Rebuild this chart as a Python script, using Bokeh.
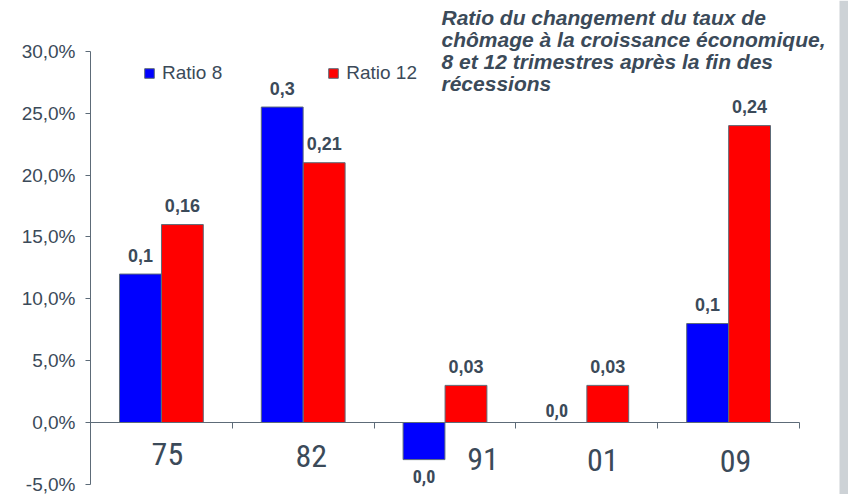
from bokeh.plotting import figure
from bokeh.models import (Range1d, LinearAxis, FixedTicker, ColumnDataSource,
                          Legend, LegendItem, Label, BoxAnnotation)
from bokeh.core.properties import value
from bokeh.embed import file_html
from bokeh.resources import INLINE

# ---------------- data ----------------
years = ["75", "82", "91", "01", "09"]
ratio8 = [12.0, 25.5, -3.0, 0.0, 8.0]
ratio12 = [16.0, 21.0, 3.0, 3.0, 24.0]
labels8 = ["0,1", "0,3", "0,0", "0,0", "0,1"]
labels12 = ["0,16", "0,21", "0,03", "0,03", "0,24"]
series_names = ["Ratio 8", "Ratio 12"]
y_ticks = [-5, 0, 5, 10, 15, 20, 25, 30]
y_tick_labels = ["-5,0%", "0,0%", "5,0%", "10,0%", "15,0%", "20,0%", "25,0%", "30,0%"]
title_text = ("Ratio du changement du taux de\n"
              "chômage à la croissance économique,\n"
              "8 et 12 trimestres après la fin des\n"
              "récessions")

# ---------------- style ----------------
TEXT = "#3b4a59"
AXIS = "#5d6b78"
ARIAL = "Liberation Sans"
NARROW = "'Roboto Condensed', 'Liberation Sans Narrow', 'DejaVu Sans Condensed', sans-serif"
BLUE = "#0000ff"
RED = "#ff0000"
STRIPE = "#cdd2d6"
OFF = 0.148
BW = 0.295
# hand-placed offsets (px) of the category labels below the zero line
cat_dx = [6, 8, 38, 16, 7]
cat_dy = [31, 33, 36, 37, 38]

W, H = 848, 494
LEFT = 90               # y axis position
PX_CAT = 141.8          # px per category
PX_UNIT = 12.371        # px per percentage point
ZERO_Y = 422            # px of the zero line

n = len(years)
centers = [i + 0.5 for i in range(n)]
x_end = (W - LEFT) / PX_CAT
y_top = ZERO_Y / PX_UNIT
y_bot = -(H - ZERO_Y) / PX_UNIT

p = figure(width=W, height=H, x_range=Range1d(0, x_end), y_range=Range1d(y_bot, y_top),
           output_backend="svg", toolbar_location=None,
           x_axis_location=None, y_axis_location=None,
           min_border_left=LEFT, min_border_right=0, min_border_top=0, min_border_bottom=0)
p.xgrid.visible = False
p.ygrid.visible = False
p.outline_line_color = None
p.background_fill_color = "white"
p.border_fill_color = "white"

# grey stripe at right edge
p.add_layout(BoxAnnotation(left=(839 - LEFT) / PX_CAT, fill_color=STRIPE, fill_alpha=1,
                           line_color=None))

# y axis
yaxis = LinearAxis(ticker=FixedTicker(ticks=y_ticks),
                   major_label_overrides={t: l for t, l in zip(y_ticks, y_tick_labels)},
                   bounds=(y_ticks[0], y_ticks[-1]),
                   axis_line_color=AXIS, major_tick_line_color=AXIS,
                   major_tick_out=5, major_tick_in=0, minor_tick_line_color=None,
                   major_label_text_font=ARIAL, major_label_text_font_size="19px",
                   major_label_text_color=TEXT, major_label_standoff=10)
p.add_layout(yaxis, "left")

# x axis line + boundary ticks at y = 0
xtick_axis = LinearAxis(ticker=FixedTicker(ticks=list(range(n + 1))), fixed_location=0,
                        bounds=(0, n),
                        major_label_overrides={i: "" for i in range(n + 1)},
                        axis_line_color=AXIS, major_tick_line_color=AXIS,
                        major_tick_out=6, major_tick_in=0, minor_tick_line_color=None)
p.add_layout(xtick_axis, "below")

# category labels
cat_src = ColumnDataSource(dict(x=centers, y=[0] * n, text=years, dx=cat_dx, dy=cat_dy))
p.text(x="x", y="y", text="text", source=cat_src, x_offset="dx", y_offset="dy",
       text_font=value(NARROW), text_font_size="32px", text_color=TEXT,
       text_align="center", text_baseline="middle")

# bars
src = ColumnDataSource(dict(x8=[c - OFF for c in centers], x12=[c + OFF for c in centers],
                            r8=ratio8, r12=ratio12))
b8 = p.vbar(x="x8", top="r8", bottom=0, width=BW, source=src,
            fill_color=BLUE, line_color=AXIS, line_width=1)
b12 = p.vbar(x="x12", top="r12", bottom=0, width=BW, source=src,
             fill_color=RED, line_color=AXIS, line_width=1)

# value labels
def label_sources(xs, vals, texts):
    above = dict(x=[], y=[], text=[], xo=[], yo=[], font=[])
    below = dict(x=[], y=[], text=[], font=[])
    for x, v, t in zip(xs, vals, texts):
        font = NARROW if t == "0,0" else ARIAL
        if v < 0:
            below["x"].append(x); below["y"].append(v); below["text"].append(t)
            below["font"].append(font)
        else:
            above["x"].append(x); above["y"].append(v); above["text"].append(t)
            above["font"].append(font)
            above["xo"].append(0 if v > 0 else -9)
            above["yo"].append(-19 if v > 0 else -12)
    return ColumnDataSource(above), ColumnDataSource(below)

for xs, vals, texts in ((src.data["x8"], ratio8, labels8), (src.data["x12"], ratio12, labels12)):
    a, b = label_sources(xs, vals, texts)
    p.text(x="x", y="y", text="text", source=a, x_offset="xo", y_offset="yo",
           text_font="font", text_font_size="18px", text_font_style="bold",
           text_color=TEXT, text_align="center", text_baseline="alphabetic")
    p.text(x="x", y="y", text="text", source=b, y_offset=10,
           text_font="font", text_font_size="18px", text_font_style="bold",
           text_color=TEXT, text_align="center", text_baseline="top")

# legend
legend = Legend(items=[LegendItem(label=series_names[0], renderers=[b8]),
                       LegendItem(label=series_names[1], renderers=[b12])],
                orientation="horizontal", location=(53, 410),
                glyph_width=12, glyph_height=12, label_standoff=7, spacing=105,
                label_height=20, padding=0, margin=0, border_line_color=None,
                background_fill_alpha=0,
                label_text_font=ARIAL, label_text_font_size="19px", label_text_color=TEXT)
p.add_layout(legend)

# title
p.add_layout(Label(x=351, y=489, x_units="screen", y_units="screen", text=title_text,
                   text_font=ARIAL, text_font_style="bold italic", text_font_size="21px",
                   text_color=TEXT, text_baseline="top", text_line_height=0.965))

open("out.html", "w").write(file_html(p, INLINE))
